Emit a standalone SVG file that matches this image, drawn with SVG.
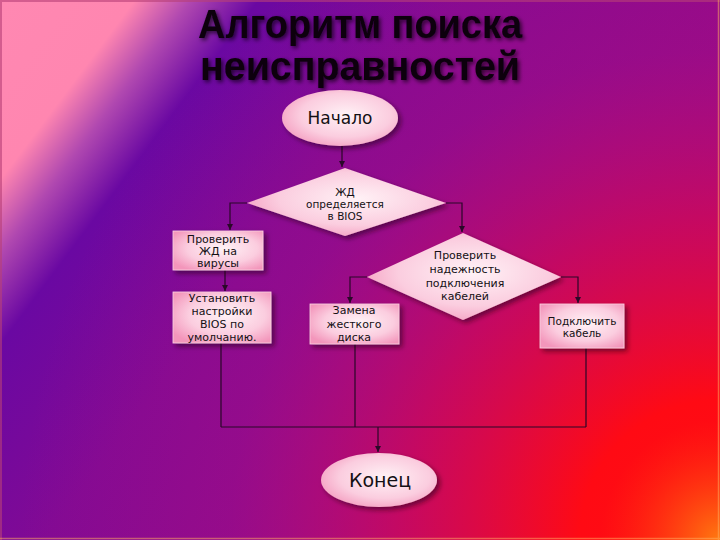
<svg xmlns="http://www.w3.org/2000/svg" width="720" height="540" viewBox="0 0 720 540">
<defs>
  <linearGradient id="bg" gradientUnits="userSpaceOnUse" x1="0" y1="0" x2="720" y2="540">
    <stop offset="0" stop-color="#ff88b2"/>
    <stop offset="0.12" stop-color="#ff86b0"/>
    <stop offset="0.17" stop-color="#b048b0"/>
    <stop offset="0.23" stop-color="#6a08a2"/>
    <stop offset="0.4" stop-color="#820a94"/>
    <stop offset="0.7" stop-color="#920a8a"/>
    <stop offset="1" stop-color="#a00a80"/>
  </linearGradient>
  <radialGradient id="red" gradientUnits="userSpaceOnUse" cx="720" cy="540" r="700">
    <stop offset="0" stop-color="#ff1010" stop-opacity="1"/>
    <stop offset="0.2" stop-color="#ff0a14" stop-opacity="1"/>
    <stop offset="0.45" stop-color="#e2084a" stop-opacity="0.65"/>
    <stop offset="0.7" stop-color="#c0107a" stop-opacity="0.22"/>
    <stop offset="1" stop-color="#c0107a" stop-opacity="0"/>
  </radialGradient>
  <radialGradient id="orange" gradientUnits="userSpaceOnUse" cx="720" cy="540" r="120">
    <stop offset="0" stop-color="#ff8010" stop-opacity="0.95"/>
    <stop offset="1" stop-color="#ff3010" stop-opacity="0"/>
  </radialGradient>
  <radialGradient id="nodeFill" cx="55%" cy="45%" r="65%">
    <stop offset="0" stop-color="#fff2f6"/>
    <stop offset="0.6" stop-color="#fbcddf"/>
    <stop offset="1" stop-color="#f396bb"/>
  </radialGradient>
  <filter id="shadow" x="-20%" y="-20%" width="150%" height="150%">
    <feDropShadow dx="3" dy="3" stdDeviation="2.5" flood-color="#200010" flood-opacity="0.55"/>
  </filter>
  <filter id="tshadow" x="-10%" y="-30%" width="120%" height="160%">
    <feDropShadow dx="2" dy="2" stdDeviation="2" flood-color="#000000" flood-opacity="0.7"/>
  </filter>
  <marker id="arr" markerUnits="userSpaceOnUse" markerWidth="7" markerHeight="7" refX="6" refY="3" orient="auto">
    <path d="M0,0 L6,3 L0,6 Z" fill="#2a0828"/>
  </marker>
</defs>
<style>
  .node{fill:url(#nodeFill);filter:url(#shadow)}
  .box{stroke:#fbd3e1;stroke-width:0.8}
  .t{font-family:"DejaVu Sans","Liberation Sans",sans-serif;font-size:10.5px;fill:#141014;text-anchor:middle}
  .m{font-size:11px}
  .big{font-size:17px}
  .title{font-family:"Liberation Sans",Arial,sans-serif;font-weight:bold;font-size:40px;fill:#0c0410;text-anchor:middle;filter:url(#tshadow)}
  .c{fill:none;stroke:#2a0828;stroke-width:1.2}
</style>

<rect width="720" height="540" fill="url(#bg)"/>
<rect width="720" height="540" fill="url(#red)"/>
<rect width="720" height="540" fill="url(#orange)"/>
<path d="M0,1 H720 M1,0 V540" stroke="#b84078" stroke-width="2" opacity="0.6"/>
<path d="M0,538.5 H720 M718.5,0 V540" stroke="#ffb060" stroke-width="1.5" opacity="0.5"/>

<g id="title">
  <text class="title" x="360" y="38" textLength="324" lengthAdjust="spacingAndGlyphs">Алгоритм поиска</text>
  <text class="title" x="360" y="80" textLength="320" lengthAdjust="spacingAndGlyphs">неисправностей</text>
</g>

<g id="connectors">
  <path class="c" d="M342,146 V167" marker-end="url(#arr)"/>
  <path class="c" d="M247,203 H230 V230" marker-end="url(#arr)"/>
  <path class="c" d="M446,203 H462 V232" marker-end="url(#arr)"/>
  <path class="c" d="M225,270 V291" stroke-width="2" marker-end="url(#arr)"/>
  <path class="c" d="M367,277 H350 V303" marker-end="url(#arr)"/>
  <path class="c" d="M561,277 H578 V303" marker-end="url(#arr)"/>
  <path class="c" d="M221,343 V427 M355,344 V427 M586,348 V427 M221,427 H586"/>
  <path class="c" d="M378,427 V452" marker-end="url(#arr)"/>
</g>

<g id="start">
  <ellipse class="node" cx="340" cy="118" rx="58" ry="28"/>
  <text class="t big" x="340" y="124">Начало</text>
</g>

<g id="decision1">
  <polygon class="node" points="345,168 446,203 345,236 247,203"/>
  <text class="t" x="345" y="196">ЖД</text>
  <text class="t" x="345" y="208">определяется</text>
  <text class="t" x="345" y="220">в BIOS</text>
</g>

<g id="checkVirus">
  <rect class="node box" x="173" y="231" width="90" height="39"/>
  <text class="t m" x="218" y="243">Проверить</text>
  <text class="t m" x="218" y="255">ЖД на</text>
  <text class="t m" x="218" y="267">вирусы</text>
</g>

<g id="setBios">
  <rect class="node box" x="173" y="292" width="98" height="51"/>
  <text class="t m" x="222" y="302">Установить</text>
  <text class="t m" x="222" y="315">настройки</text>
  <text class="t m" x="222" y="328">BIOS по</text>
  <text class="t m" x="222" y="341">умолчанию.</text>
</g>

<g id="decision2">
  <polygon class="node" points="463,233 561,277 463,320 367,277"/>
  <text class="t m" x="465" y="259">Проверить</text>
  <text class="t m" x="465" y="273">надежность</text>
  <text class="t m" x="465" y="287">подключения</text>
  <text class="t m" x="465" y="300">кабелей</text>
</g>

<g id="replaceDisk">
  <rect class="node box" x="310" y="304" width="89" height="40"/>
  <text class="t m" x="354" y="314">Замена</text>
  <text class="t m" x="354" y="328">жесткого</text>
  <text class="t m" x="354" y="341">диска</text>
</g>

<g id="connectCable">
  <rect class="node box" x="540" y="304" width="84" height="44"/>
  <text class="t" x="582" y="325">Подключить</text>
  <text class="t" x="582" y="337">кабель</text>
</g>

<g id="end">
  <ellipse class="node" cx="379" cy="480" rx="58" ry="27"/>
  <text class="t" x="380" y="487" style="font-size:19px">Конец</text>
</g>
</svg>
